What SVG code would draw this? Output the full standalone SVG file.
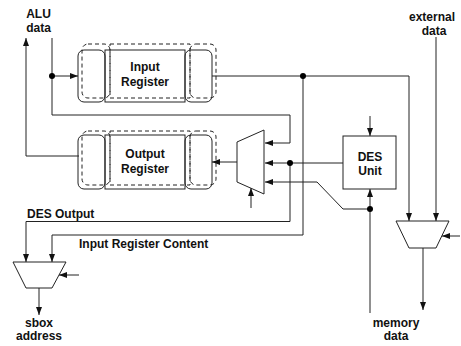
<svg xmlns="http://www.w3.org/2000/svg" width="461" height="346" viewBox="0 0 461 346">
<defs>
<marker id="ah" markerUnits="userSpaceOnUse" markerWidth="8" markerHeight="6" refX="8" refY="3" orient="auto"><path d="M0,0 L8,3 L0,6 z" fill="#111"/></marker>
<style>
.ln{fill:none;stroke:#222;stroke-width:1}
.ar{fill:none;stroke:#222;stroke-width:1;marker-end:url(#ah)}
.sh{fill:none;stroke:#222;stroke-width:1}
.da{fill:none;stroke:#222;stroke-width:1;stroke-dasharray:4 3}
.dot{fill:#000}
text{font-family:"Liberation Sans",Arial,sans-serif;font-weight:bold;font-size:12px;fill:#111}
.c{text-anchor:middle}
</style>
</defs>
<rect width="461" height="346" fill="#fff"/>
<g id="connectors">
<polyline class="ar" points="52,38 52,115 290,115 290,143 265,143"/>
<polyline class="ar" points="52,76 78,76"/>
<polyline class="ar" points="79,156 26,156 26,38"/>
<polyline class="ar" points="212,76 409,76 409,221"/>
<polyline class="ar" points="303,76 303,235 52,235 52,262"/>
<polyline class="ar" points="343,163 265,163"/>
<polyline class="ar" points="290,163 290,221.5 26,221.5 26,262"/>
<polyline class="ar" points="370,313 370,189"/>
<polyline class="ar" points="370,209 343,209 317,182 265,182"/>
<polyline class="ar" points="370,116 370,136"/>
<polyline class="ar" points="237,162 212,162"/>
<polyline class="ar" points="251,208 251,188"/>
<polyline class="ar" points="436,37 436,221"/>
<polyline class="ar" points="460,236 442,236"/>
<polyline class="ar" points="423,248 423,310"/>
<polyline class="ar" points="79,275 59,275"/>
<polyline class="ar" points="39,288 39,315"/>
<circle class="dot" cx="52" cy="76" r="3"/>
<circle class="dot" cx="303" cy="76" r="3"/>
<circle class="dot" cx="290" cy="163" r="3"/>
<circle class="dot" cx="370" cy="209" r="3"/>
</g>
<g id="input-register">
<rect class="da" x="82" y="44" width="28" height="54" rx="6"/>
<rect class="da" x="110" y="44" width="80" height="54"/>
<rect class="da" x="190" y="44" width="26" height="54" rx="6"/>
<rect class="sh" x="78" y="50" width="27" height="52" rx="6"/>
<rect class="sh" x="105" y="50" width="80" height="52"/>
<rect class="sh" x="185" y="50" width="27" height="52" rx="6"/>
<text class="c" x="145" y="71">Input</text>
<text class="c" x="145" y="86">Register</text>
</g>
<g id="output-register">
<rect class="da" x="82" y="131" width="28" height="54" rx="6"/>
<rect class="da" x="110" y="131" width="80" height="54"/>
<rect class="da" x="190" y="131" width="26" height="54" rx="6"/>
<rect class="sh" x="78" y="135" width="27" height="54" rx="6"/>
<rect class="sh" x="105" y="135" width="80" height="54"/>
<rect class="sh" x="185" y="135" width="27" height="54" rx="6"/>
<text class="c" x="145" y="158">Output</text>
<text class="c" x="145" y="173">Register</text>
</g>
<g id="output-mux">
<polygon class="sh" points="237,142 264,130 264,194 237,182"/>
</g>
<g id="des-unit">
<rect class="sh" x="343" y="136" width="53" height="53"/>
<text class="c" x="370" y="161">DES</text>
<text class="c" x="370" y="175">Unit</text>
</g>
<g id="sbox-mux">
<polygon class="sh" points="13,262 66,262 52,288 26,288"/>
</g>
<g id="memory-mux">
<polygon class="sh" points="396,221 449,221 436,248 409,248"/>
</g>
<g id="labels">
<text class="c" x="38.5" y="18">ALU</text>
<text class="c" x="38.5" y="32">data</text>
<text class="c" x="432" y="21">external</text>
<text class="c" x="434" y="35">data</text>
<text x="27" y="218">DES Output</text>
<text x="79" y="248">Input Register Content</text>
<text class="c" x="39" y="327">sbox</text>
<text class="c" x="39" y="340">address</text>
<text class="c" x="396" y="327">memory</text>
<text class="c" x="396" y="340">data</text>
</g>
</svg>
